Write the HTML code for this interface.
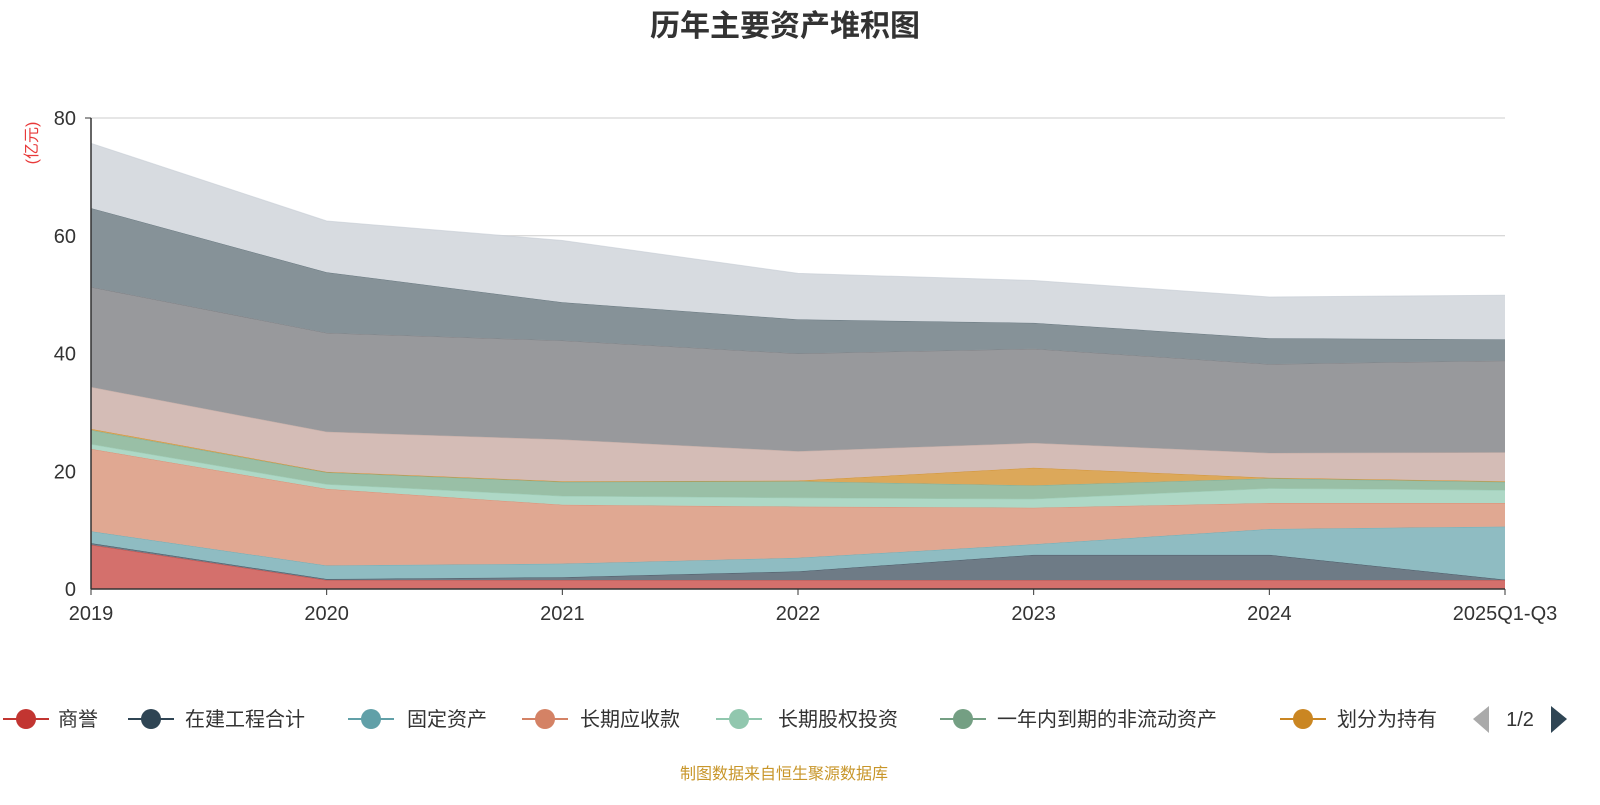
<!DOCTYPE html>
<html><head><meta charset="utf-8">
<style>
body{margin:0;background:#fff;font-family:"Liberation Sans","Noto Sans CJK SC",sans-serif;}
svg text{font-family:"Liberation Sans","Noto Sans CJK SC",sans-serif;}
</style></head>
<body>
<svg id="chart" width="1600" height="800" xmlns="http://www.w3.org/2000/svg">
<text x="785" y="36" text-anchor="middle" font-size="30" font-weight="bold" fill="#333">历年主要资产堆积图</text>
<text transform="translate(37,143) rotate(-90)" text-anchor="middle" font-size="16" fill="#e83a3a">(亿元)</text>
<g id="grid"></g><g id="areas"></g><g id="axes"></g><g id="legend"></g>
<text x="784" y="779" text-anchor="middle" font-size="16" fill="#c8962a">制图数据来自恒生聚源数据库</text>
</svg>
<script>
const categories=["2019","2020","2021","2022","2023","2024","2025Q1-Q3"];
const yTicks=[0,20,40,60,80];
const seriesNames=["商誉","在建工程合计","固定资产","长期应收款","长期股权投资","一年内到期的非流动资产","划分为持有","其他1","其他2","其他3","其他4"];
const sGoodwill=[7.5,1.5,1.5,1.5,1.5,1.5,1.5];
const sConstruction=[0.3,0.2,0.5,1.5,4.3,4.3,0.1];
const sFixed=[2,2.3,2.3,2.3,1.8,4.4,9];
const sLongRecv=[14,13,10,8.7,6.2,4.4,4];
const sEquityInv=[0.8,0.8,1.5,1.5,1.5,2.5,2.2];
const sCurrentNon=[2.4,2,2.4,2.8,2.3,1.7,1.4];
const sHeldSale=[0.2,0.1,0.1,0.1,3,0.1,0.1];
const sOther1=[7.1,6.8,7.1,5,4.2,4.2,4.9];
const sOther2=[17,16.8,16.8,16.6,16,15.1,15.6];
const sOther3=[13.4,10.3,6.5,5.8,4.4,4.4,3.6];
const sOther4=[11,8.7,10.5,7.8,7.2,7,7.5];
const allSeries=[sGoodwill,sConstruction,sFixed,sLongRecv,sEquityInv,sCurrentNon,sHeldSale,sOther1,sOther2,sOther3,sOther4];
const fills=["#d4706c","#6e7b86","#8fbcc2","#e0a892","#aed8c6","#99bfa6","#dca85a","#d4bcb6","#98999c","#869298","#d7dbe0"];
const strokes=["#c23531","#2f4554","#61a0a8","#d48265","#91c7ae","#749f83","#ca8622","#bda29a","#6e7074","#546570","#c4ccd3"];
const X0=91,X1=1505,Y0=589,Y80=118;
const xs=i=>X0+i*(X1-X0)/(categories.length-1);
const ys=v=>Y0-v*(Y0-Y80)/80;
const NS="http://www.w3.org/2000/svg";
function mk(tag,attrs,parent){const e=document.createElementNS(NS,tag);for(const k in attrs)e.setAttribute(k,attrs[k]);parent.appendChild(e);return e;}
const grid=document.getElementById('grid'),areas=document.getElementById('areas'),axes=document.getElementById('axes'),legend=document.getElementById('legend');
yTicks.forEach(t=>{
 if(t>0){const l=mk('line',{x1:X0,x2:X1,y1:ys(t),y2:ys(t),stroke:'#ccc','stroke-width':1},grid);
 
 }
 const tx=mk('text',{x:76,y:ys(t)+7,'text-anchor':'end','font-size':20,fill:'#333'},axes);tx.textContent=t;
 
 
});
let base=categories.map(()=>0);
allSeries.forEach((s,si)=>{
 const top=base.map((b,i)=>b+s[i]);
 let d='M'+top.map((v,i)=>xs(i)+','+ys(v)).join(' L');
 for(let i=categories.length-1;i>=0;i--)d+=' L'+xs(i)+','+ys(base[i]);
 const p=mk('path',{d:d+'Z',fill:fills[si],stroke:'none'},areas);
 
 
 const ln=mk('polyline',{points:top.map((v,i)=>xs(i)+','+ys(v)).join(' '),fill:'none',stroke:strokes[si],'stroke-width':1,'stroke-opacity':0.6},areas);
 
 
 base=top;
});
const ya=mk('line',{x1:X0,x2:X0,y1:Y80,y2:Y0,stroke:'#333','stroke-width':1.5},axes);


const xa=mk('line',{x1:X0,x2:X1,y1:Y0,y2:Y0,stroke:'#333','stroke-width':1.5},axes);


mk('line',{x1:X0-6,x2:X0,y1:Y80,y2:Y80,stroke:'#333'},axes);
categories.forEach((c,i)=>{
 mk('line',{x1:xs(i),x2:xs(i),y1:Y0,y2:Y0+6,stroke:'#333'},axes);
 const t=mk('text',{x:xs(i),y:620,'text-anchor':'middle','font-size':20,fill:'#333'},axes);t.textContent=c;
 
 
});
const legX=[[3,58],[128,185],[348,407],[522,580],[716,778],[940,997],[1280,1337]];
legX.forEach((p,i)=>{
 const g=mk('g',{},legend);
 
 
 mk('line',{x1:p[0],x2:p[0]+46,y1:719,y2:719,stroke:strokes[i],'stroke-width':2},g);
 mk('circle',{cx:p[0]+23,cy:719,r:10,fill:strokes[i]},g);
 const t=mk('text',{x:p[1],y:726,'font-size':20,fill:'#333'},g);t.textContent=seriesNames[i];
});
const pl=mk('path',{d:'M1489,706 L1473,719 L1489,733 Z',fill:'#aaa'},legend);


const pt=mk('text',{x:1520,y:726,'text-anchor':'middle','font-size':20,fill:'#333'},legend);pt.textContent='1/2';


const pn=mk('path',{d:'M1551,706 L1567,719 L1551,733 Z',fill:'#2f4554'},legend);


</script>
</body></html>
